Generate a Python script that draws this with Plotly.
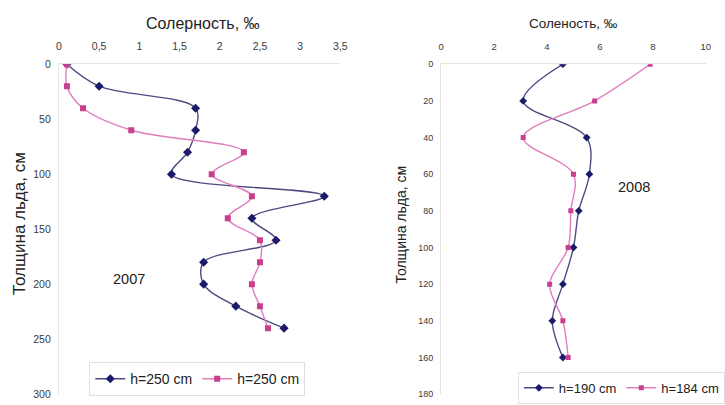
import plotly.graph_objects as go

# Ice depth (cm) and salinity (‰) profiles
depth_2007 = [0, 20, 40, 60, 80, 100, 120, 140, 160, 180, 200, 220, 240]
sal_2007_a = [0.1, 0.5, 1.7, 1.7, 1.6, 1.4, 3.3, 2.4, 2.7, 1.8, 1.8, 2.2, 2.8]
sal_2007_b = [0.1, 0.1, 0.3, 0.9, 2.3, 1.9, 2.4, 2.1, 2.5, 2.5, 2.4, 2.5, 2.6]

depth_2008 = [0, 20, 40, 60, 80, 100, 120, 140, 160]
sal_2008_a = [4.6, 3.1, 5.5, 5.6, 5.2, 5.0, 4.6, 4.2, 4.6]
sal_2008_b = [7.9, 5.8, 3.1, 5.0, 4.9, 4.8, 4.1, 4.6, 4.8]

ticks_x_2007 = [0, 0.5, 1, 1.5, 2, 2.5, 3, 3.5]
ticks_x_2008 = [0, 2, 4, 6, 8, 10]
ticks_y_2007 = [0, 50, 100, 150, 200, 250, 300]
ticks_y_2008 = [0, 20, 40, 60, 80, 100, 120, 140, 160, 180]

W, H = 725, 405
NAVY, NAVY_LINE = "#1c1a6a", "#4c4c84"
PINK, PINK_LINE = "#c83f90", "#e07dbd"
FONT = "Liberation Sans"
TICK_COLOR = "#3a3a3a"


def fmt(v):
    return ("%g" % v).replace(".", ",")


fig = go.Figure()

fig.add_trace(go.Scatter(
    x=sal_2007_a, y=depth_2007, name="h=250 cm", mode="lines+markers",
    line=dict(color=NAVY_LINE, width=1.4, shape="spline", smoothing=1),
    marker=dict(symbol="diamond", size=7, color=NAVY),
    xaxis="x", yaxis="y", legend="legend"))
fig.add_trace(go.Scatter(
    x=sal_2007_b, y=depth_2007, name="h=250 cm", mode="lines+markers",
    line=dict(color=PINK_LINE, width=1.4, shape="spline", smoothing=1),
    marker=dict(symbol="square", size=6, color=PINK),
    xaxis="x", yaxis="y", legend="legend"))
fig.add_trace(go.Scatter(
    x=sal_2008_a, y=depth_2008, name="h=190 cm", mode="lines+markers",
    line=dict(color=NAVY_LINE, width=1.4, shape="spline", smoothing=1),
    marker=dict(symbol="diamond", size=6, color=NAVY),
    xaxis="x2", yaxis="y2", legend="legend2"))
fig.add_trace(go.Scatter(
    x=sal_2008_b, y=depth_2008, name="h=184 cm", mode="lines+markers",
    line=dict(color=PINK_LINE, width=1.4, shape="spline", smoothing=1),
    marker=dict(symbol="square", size=5, color=PINK),
    xaxis="x2", yaxis="y2", legend="legend2"))

top, bottom = 60, 400
ydom = [1 - bottom / H, 1 - top / H]

axis_common = dict(showgrid=False, zeroline=False, showline=True,
                   linecolor="#e4e4e4", linewidth=1, ticks="")

fig.update_layout(
    width=W, height=H,
    margin=dict(l=0, r=0, t=0, b=0),
    paper_bgcolor="white", plot_bgcolor="white",
    font=dict(family=FONT, color="#222222"),
    xaxis=dict(axis_common, domain=[57 / W, 344 / W], range=[0, 3.5], side="top",
               anchor="y", tickvals=ticks_x_2007,
               ticktext=[fmt(v) for v in ticks_x_2007], ticklabelstandoff=9,
               tickfont=dict(family=FONT, size=10.5, color=TICK_COLOR)),
    yaxis=dict(axis_common, domain=ydom, range=[300, 0], anchor="x",
               tickvals=ticks_y_2007, ticktext=[str(v) for v in ticks_y_2007],
               ticklabelstandoff=5,
               tickfont=dict(family=FONT, size=10.5, color=TICK_COLOR)),
    xaxis2=dict(axis_common, domain=[446.7 / W, 716.7 / W], range=[0, 10], side="top",
                anchor="y2", tickvals=ticks_x_2008,
                ticktext=[str(v) for v in ticks_x_2008], ticklabelstandoff=9,
                tickfont=dict(family=FONT, size=9.5, color=TICK_COLOR)),
    yaxis2=dict(axis_common, domain=ydom, range=[180, 0], anchor="x2",
                tickvals=ticks_y_2008, ticktext=[str(v) for v in ticks_y_2008],
                ticklabelstandoff=5,
                tickfont=dict(family=FONT, size=9, color=TICK_COLOR)),
    legend=dict(orientation="h", x=88 / W, y=1 - 367 / H, xanchor="left", yanchor="top",
                bordercolor="#e0e0e0", borderwidth=1, bgcolor="white",
                font=dict(family=FONT, size=14, color="#222222"),
                itemwidth=30, tracegroupgap=0),
    legend2=dict(orientation="h", x=525 / W, y=1 - 377 / H, xanchor="left", yanchor="top",
                 bordercolor="#e0e0e0", borderwidth=1, bgcolor="white",
                 font=dict(family=FONT, size=13, color="#222222"),
                 itemwidth=30, tracegroupgap=0),
    showlegend=True,
)

annotations = [
    dict(text="Солерность, ‰", x=204 / W, y=1 - 18 / H, font=dict(size=16)),
    dict(text="Соленость, ‰", x=582 / W, y=1 - 18 / H, font=dict(size=13.5)),
    dict(text="Толщина льда, см", x=17 / W, y=1 - 224 / H, textangle=-90,
         font=dict(size=17)),
    dict(text="Толщина льда, см", x=406 / W, y=1 - 225 / H, textangle=-90,
         font=dict(size=14)),
    dict(text="2007", x=128 / W, y=1 - 281 / H, font=dict(size=14.5)),
    dict(text="2008", x=643 / W, y=1 - 187 / H, font=dict(size=14.5)),
]
for a in annotations:
    a.update(xref="paper", yref="paper", showarrow=False,
             xanchor="center", yanchor="middle")
    a["font"].update(family=FONT, color="#222222")
fig.update_layout(annotations=annotations)

fig.write_html("out.html")
